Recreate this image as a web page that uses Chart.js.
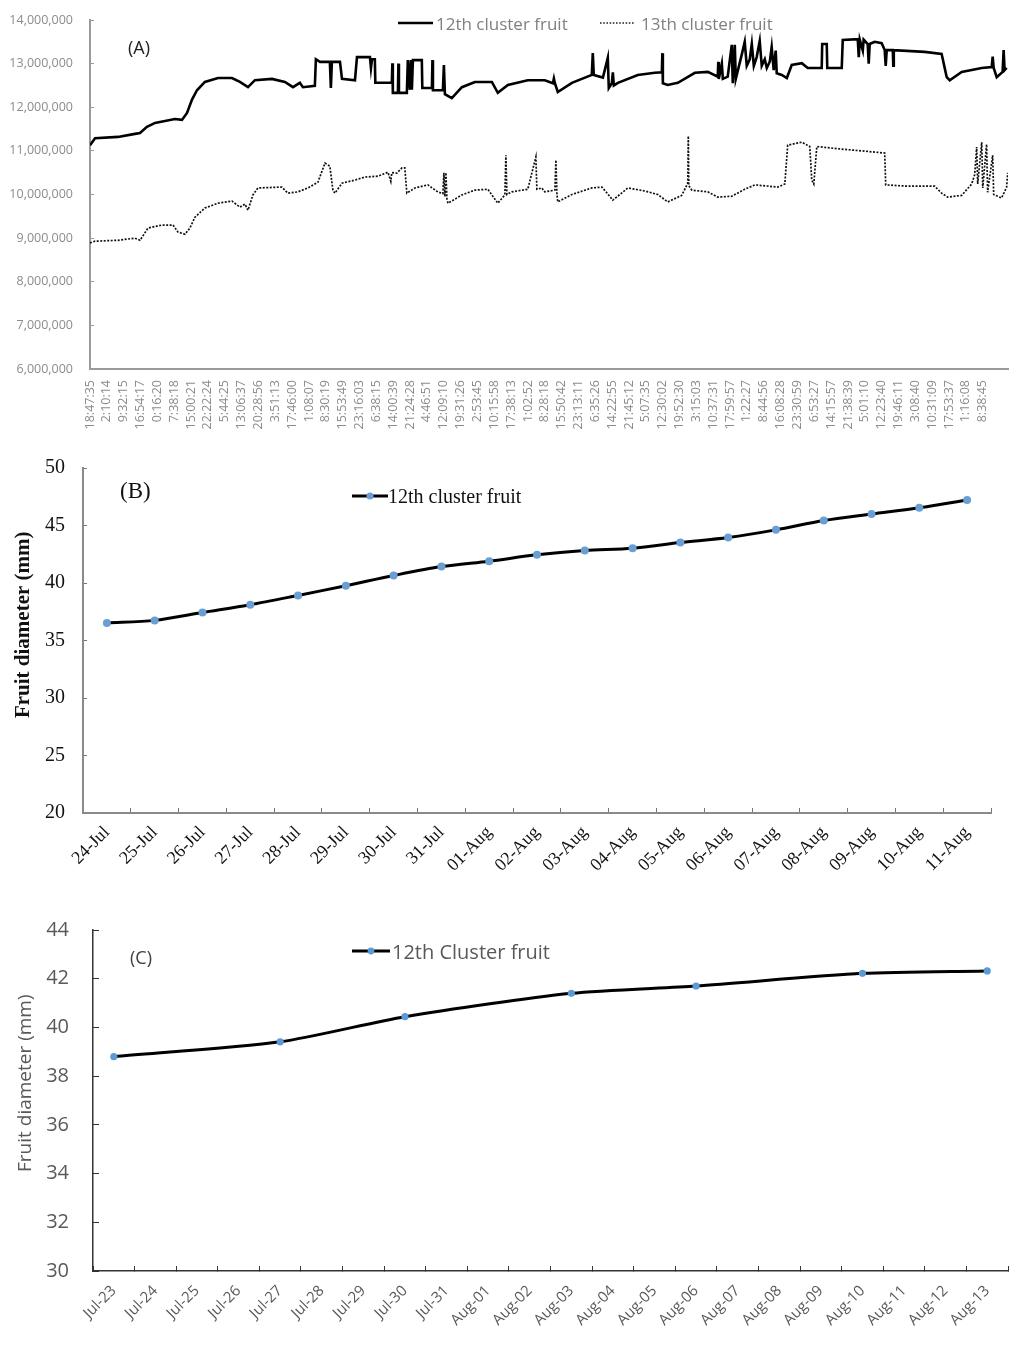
<!DOCTYPE html>
<html>
<head>
<meta charset="utf-8">
<script src="https://cdn.jsdelivr.net/npm/chart.js@4.4.1/dist/chart.umd.min.js"></script>
<style>
  body { margin: 0; background: #fff; }
  #page { position: relative; width: 1034px; height: 1358px; overflow: hidden; background: #fff; }
  canvas { position: absolute; left: 0; }
  .tag { position: absolute; white-space: nowrap; line-height: 24px; }
  .leg { position: absolute; display: flex; align-items: center; white-space: nowrap; height: 24px; }
  .leg svg { display: block; }
</style>
</head>
<body>
<div id="page">
  <canvas id="chartA" width="1034" height="445" style="top:0;width:1034px;height:445px"></canvas>
  <canvas id="chartB" width="1034" height="445" style="top:450px;width:1034px;height:445px"></canvas>
  <canvas id="chartC" width="1034" height="458" style="top:900px;width:1034px;height:458px"></canvas>

  <div class="tag" style="left:128px;top:35px;font:18px 'Open Sans';color:#222">(A)</div>
  <div class="leg" style="left:398px;top:11px;font:17px 'Open Sans';color:#808080">
    <svg width="35" height="6"><line x1="0" y1="3" x2="35" y2="3" stroke="#000" stroke-width="2.4"/></svg>
    <span style="margin-left:3px">12th cluster fruit</span>
  </div>
  <div class="leg" style="left:600px;top:11px;font:17px 'Open Sans';color:#808080">
    <svg width="34" height="6"><line x1="0" y1="3" x2="34" y2="3" stroke="#222" stroke-width="1.4" stroke-dasharray="1.6 1.6"/></svg>
    <span style="margin-left:7px">13th cluster fruit</span>
  </div>

  <div class="tag" style="left:120px;top:478px;font:23px 'Times New Roman','Liberation Serif',serif;color:#111">(B)</div>
  <div class="leg" style="left:352px;top:484px;font:20px 'Times New Roman','Liberation Serif',serif;color:#111">
    <svg width="36" height="10"><line x1="0" y1="5" x2="36" y2="5" stroke="#000" stroke-width="3"/><circle cx="18" cy="5" r="3.6" fill="#6a9fd4"/></svg>
    <span style="margin-left:0">12th cluster fruit</span>
  </div>

  <div class="tag" style="left:130px;top:945px;font:18px 'Open Sans';color:#404040">(C)</div>
  <div class="leg" style="left:352px;top:939px;font:20px 'Open Sans';color:#595959">
    <svg width="38" height="10"><line x1="0" y1="5" x2="38" y2="5" stroke="#000" stroke-width="3"/><circle cx="19" cy="5" r="3.4" fill="#5b9bd5"/></svg>
    <span style="margin-left:2px">12th Cluster fruit</span>
  </div>
</div>

<script>
// ---- panel A: sensor readings, x in units of the time-label spacing ----
const timeLabelsA = ['18:47:35','2:10:14','9:32:15','16:54:17','0:16:20','7:38:18','15:00:21','22:22:24','5:44:25','13:06:37',
  '20:28:56','3:51:13','17:46:00','1:08:07','8:30:19','15:53:49','23:16:03','6:38:15','14:00:39','21:24:28',
  '4:46:51','12:09:10','19:31:26','2:53:45','10:15:58','17:38:13','1:02:52','8:28:18','15:50:42','23:13:11',
  '6:35:26','14:22:55','21:45:12','5:07:35','12:30:02','19:52:30','3:15:03','10:37:31','17:59:57','1:22:27',
  '8:44:56','16:08:28','23:30:59','6:53:27','14:15:57','21:38:39','5:01:10','12:23:40','19:46:11','3:08:40',
  '10:31:09','17:53:37','1:16:08','8:38:45'];

const timeA12 = [0, 0.30, 1.66, 2.67, 2.97, 3.38, 3.86, 5.04, 5.46, 5.76,
  6.05, 6.35, 6.82, 7.60, 8.43, 8.90, 9.38, 9.79, 10.80, 11.57,
  12.05, 12.46, 12.64, 13.35, 13.41, 13.65, 14.24, 14.30, 14.36, 14.84,
  14.96, 15.73, 15.85, 16.62, 16.68, 16.74, 16.91, 16.94, 17.92, 17.95,
  17.98, 18.28, 18.31, 18.34, 18.81, 18.87, 18.99, 19.05, 19.11, 19.17,
  19.70, 19.73, 20.30, 20.33, 20.36, 20.95, 21.01, 21.07, 21.48, 22.08,
  22.85, 23.86, 24.21, 24.81, 25.99, 27.00, 27.48, 27.54, 27.60, 27.77,
  28.61, 29.79, 29.85, 29.91, 30.45, 30.74, 30.80, 30.98, 31.04, 31.10,
  31.34, 32.52, 33.53, 33.95, 33.98, 34.01, 34.30, 34.90, 35.91, 36.68,
  37.27, 37.30, 37.33, 37.51, 37.57, 37.86, 38.10, 38.16, 38.28, 38.34,
  38.69, 38.87, 38.99, 39.17, 39.29, 39.41, 39.58, 39.76, 39.88, 40.06,
  40.18, 40.36, 40.47, 40.59, 40.71, 40.77, 41.07, 41.37, 41.66, 42.26,
  42.61, 43.44, 43.47, 43.74, 43.77, 44.63, 44.69, 45.58, 45.64, 45.70,
  45.88, 45.93, 46.17, 46.23, 46.29, 46.59, 47.00, 47.18, 47.24, 47.30,
  47.66, 47.69, 47.72, 49.55, 50.56, 50.86, 51.04, 51.75, 52.94, 53.53,
  53.59, 53.65, 53.83, 54.18, 54.24, 54.30, 54.42];
// millions
const valueA12 = [11.13, 11.29, 11.32, 11.39, 11.41, 11.55, 11.64, 11.73, 11.71, 11.87,
  12.17, 12.39, 12.58, 12.67, 12.67, 12.58, 12.46, 12.62, 12.65, 12.58,
  12.46, 12.56, 12.46, 12.49, 13.10, 13.04, 13.04, 12.44, 13.04, 13.04,
  12.65, 12.62, 13.15, 13.15, 12.90, 13.10, 13.10, 12.56, 12.56, 13.01,
  12.33, 12.33, 13.00, 12.33, 12.33, 13.08, 12.40, 13.08, 12.40, 13.08,
  13.08, 12.44, 12.44, 13.08, 12.39, 12.39, 12.97, 12.30, 12.21, 12.46,
  12.58, 12.58, 12.33, 12.51, 12.62, 12.62, 12.55, 12.66, 12.55, 12.35,
  12.56, 12.74, 13.24, 12.74, 12.68, 13.13, 12.44, 12.55, 12.80, 12.50,
  12.56, 12.74, 12.79, 12.80, 13.24, 12.55, 12.51, 12.56, 12.79, 12.81,
  12.70, 13.04, 12.65, 13.00, 12.65, 12.70, 13.43, 12.55, 13.43, 12.65,
  13.20, 13.50, 12.95, 13.10, 13.45, 12.95, 13.15, 13.52, 12.95, 13.10,
  12.90, 13.05, 13.38, 12.85, 13.30, 12.78, 12.74, 12.67, 12.97, 13.01,
  12.90, 12.90, 13.45, 13.45, 12.90, 12.90, 13.54, 13.56, 13.15, 13.55,
  13.30, 13.55, 13.45, 13.00, 13.45, 13.50, 13.47, 13.31, 12.95, 13.31,
  13.31, 12.95, 13.31, 13.27, 13.22, 12.69, 12.62, 12.81, 12.90, 12.92,
  13.16, 12.90, 12.69, 12.81, 13.31, 12.85, 12.90];

const timeA13 = [0, 0.30, 1.66, 2.67, 2.97, 3.44, 4.27, 4.93, 5.22, 5.64,
  5.93, 6.23, 6.82, 7.60, 8.43, 8.90, 9.20, 9.38, 9.67, 9.97,
  11.39, 11.75, 12.34, 12.94, 13.53, 13.95, 14.24, 14.42, 14.54, 14.96,
  15.73, 16.32, 17.09, 17.69, 17.86, 17.92, 18.22, 18.52, 18.69, 18.81,
  19.29, 20.06, 20.65, 20.95, 21.01, 21.07, 21.13, 21.19, 21.25, 22.08,
  22.85, 23.62, 24.21, 24.63, 24.69, 24.75, 25.04, 25.99, 26.47, 26.53,
  26.82, 27.00, 27.60, 27.66, 27.72, 27.77, 28.61, 29.79, 30.39, 30.68,
  31.04, 31.93, 32.94, 33.71, 34.30, 35.13, 35.49, 35.52, 35.55, 35.73,
  36.68, 37.27, 38.10, 38.87, 39.47, 40.83, 41.25, 41.42, 42.26, 42.73,
  42.85, 42.97, 43.15, 44.63, 45.82, 47.18, 47.24, 48.55, 50.15, 50.56,
  50.92, 51.75, 52.34, 52.52, 52.64, 52.70, 52.94, 53.00, 53.23, 53.29,
  53.59, 53.65, 54.12, 54.42, 54.48];
const valueA13 = [8.89, 8.93, 8.95, 9.00, 8.95, 9.23, 9.30, 9.30, 9.14, 9.09,
  9.23, 9.48, 9.69, 9.80, 9.85, 9.71, 9.78, 9.64, 9.99, 10.15,
  10.17, 10.03, 10.06, 10.15, 10.28, 10.72, 10.65, 10.10, 10.03, 10.26,
  10.33, 10.40, 10.42, 10.51, 10.30, 10.50, 10.49, 10.61, 10.61, 10.03,
  10.15, 10.22, 10.06, 10.02, 10.50, 9.95, 10.50, 9.90, 9.80, 9.99,
  10.10, 10.12, 9.80, 9.99, 10.90, 10.00, 10.06, 10.12, 10.86, 10.12,
  10.15, 10.06, 10.10, 10.79, 10.00, 9.83, 10.00, 10.15, 10.17, 10.04,
  9.87, 10.15, 10.08, 10.00, 9.83, 9.98, 10.26, 11.34, 10.20, 10.10,
  10.06, 9.94, 9.96, 10.12, 10.22, 10.17, 10.24, 11.13, 11.20, 11.10,
  10.33, 10.24, 11.10, 11.04, 11.00, 10.95, 10.22, 10.19, 10.19, 10.03,
  9.94, 9.98, 10.24, 10.45, 11.09, 10.24, 11.20, 10.15, 11.15, 10.05,
  10.90, 10.00, 9.92, 10.17, 10.50];

// ---- panel B ----
const datesB = ['24-Jul','25-Jul','26-Jul','27-Jul','28-Jul','29-Jul','30-Jul','31-Jul','01-Aug','02-Aug',
  '03-Aug','04-Aug','05-Aug','06-Aug','07-Aug','08-Aug','09-Aug','10-Aug','11-Aug'];
const diameterB = [36.52, 36.75, 37.44, 38.11, 38.92, 39.76, 40.65, 41.43, 41.90, 42.45,
  42.82, 43.03, 43.52, 43.96, 44.62, 45.43, 46.00, 46.55, 47.22];

// ---- panel C ----
const datesC = ['Jul-23','Jul-24','Jul-25','Jul-26','Jul-27','Jul-28','Jul-29','Jul-30','Jul-31','Aug-01','Aug-02',
  'Aug-03','Aug-04','Aug-05','Aug-06','Aug-07','Aug-08','Aug-09','Aug-10','Aug-11','Aug-12','Aug-13'];
const diameterC = [38.80, null, null, null, 39.41, null, null, 40.44, null, null, null,
  41.40, null, null, 41.70, null, null, null, 42.22, null, null, 42.32];

const serif = "'Times New Roman', 'Liberation Serif', serif";
const sans = "'Open Sans', sans-serif";
const yTitle = 'Fruit diameter (mm)';

function pairs(xs, ys) {
  return xs.map((x, i) => ({ x: x, y: ys[i] }));
}
function commas(v) {
  return String(Math.round(v * 1000000)).replace(/\B(?=(\d{3})+(?!\d))/g, ',');
}
// fixed y-axis width; stop the tick padding from pushing the plot top down
function yFit(width) {
  return s => { s.width = width; s.paddingTop = 6; s.paddingBottom = 6; };
}

new Chart(document.getElementById('chartA'), {
  type: 'line',
  data: {
    datasets: [
      { label: '12th cluster fruit', data: pairs(timeA12, valueA12), borderColor: '#000', borderWidth: 2.6,
        pointRadius: 0, tension: 0 },
      { label: '13th cluster fruit', data: pairs(timeA13, valueA13), borderColor: '#111', borderWidth: 1.7,
        borderDash: [2, 1.5], pointRadius: 0, tension: 0 }
    ]
  },
  options: {
    responsive: false,
    animation: false,
    layout: { padding: { top: 20, right: 26, bottom: 6, left: 0 } },
    plugins: { legend: { display: false }, tooltip: { enabled: false } },
    scales: {
      x: {
        type: 'linear', min: 0, max: 54.5,
        afterBuildTicks: s => { s.ticks = timeLabelsA.map((l, i) => ({ value: i })); },
        afterFit: s => { s.height = 70; },
        grid: { drawOnChartArea: false, drawTicks: false },
        border: { color: '#9a9a9a', width: 2 },
        ticks: { autoSkip: false, minRotation: 90, maxRotation: 90, padding: 11, color: '#8c8c8c',
          font: { family: sans, size: 12.5 }, callback: v => timeLabelsA[v] }
      },
      y: {
        min: 6, max: 14,
        afterFit: yFit(90),
        grid: { drawOnChartArea: false, tickLength: -4, color: '#9a9a9a' },
        border: { color: '#9a9a9a', width: 2 },
        ticks: { stepSize: 1, padding: 21, color: '#8c8c8c', font: { family: sans, size: 12.5 }, callback: commas }
      }
    }
  }
});

new Chart(document.getElementById('chartB'), {
  type: 'line',
  data: {
    labels: datesB,
    datasets: [{ label: '12th cluster fruit', data: diameterB, borderColor: '#000', borderWidth: 3, tension: 0.3,
      pointRadius: 4, pointBackgroundColor: '#6a9fd4', pointBorderColor: '#6a9fd4', pointBorderWidth: 0 }]
  },
  options: {
    responsive: false,
    animation: false,
    layout: { padding: { top: 18, right: 43, bottom: 0, left: 0 } },
    plugins: { legend: { display: false }, tooltip: { enabled: false } },
    scales: {
      x: {
        offset: true,
        afterFit: s => { s.height = 82; },
        grid: { offset: true, drawOnChartArea: false, tickLength: -5, color: '#777' },
        border: { color: '#8a8a8a', width: 2 },
        ticks: { autoSkip: false, minRotation: 45, maxRotation: 45, padding: 14, color: '#111',
          font: { family: serif, size: 18 } }
      },
      y: {
        min: 20, max: 50,
        afterFit: yFit(83),
        grid: { drawOnChartArea: false, tickLength: -4, color: '#777' },
        border: { color: '#8a8a8a', width: 2 },
        // leading spaces lift the title a little, as in the original figure
        title: { display: true, text: ' '.repeat(6) + yTitle, color: '#111', padding: { top: 11, bottom: 0 },
          font: { family: serif, size: 21, weight: 'bold' } },
        ticks: { stepSize: 5, padding: 22, color: '#111', font: { family: serif, size: 20 } }
      }
    }
  }
});

new Chart(document.getElementById('chartC'), {
  type: 'line',
  data: {
    labels: datesC,
    datasets: [{ label: '12th Cluster fruit', data: diameterC, spanGaps: true, borderColor: '#000', borderWidth: 3,
      tension: 0.25, pointRadius: 3.6, pointBackgroundColor: '#5b9bd5', pointBorderColor: '#5b9bd5', pointBorderWidth: 0 }]
  },
  options: {
    responsive: false,
    animation: false,
    layout: { padding: { top: 30, right: 26, bottom: 0, left: 0 } },
    plugins: { legend: { display: false }, tooltip: { enabled: false } },
    scales: {
      x: {
        offset: true,
        afterFit: s => { s.height = 87; },
        grid: { offset: true, drawOnChartArea: false, tickLength: -5, color: '#333' },
        border: { color: '#333', width: 1.5 },
        ticks: { autoSkip: false, minRotation: 45, maxRotation: 45, padding: 16, color: '#595959',
          font: { family: sans, size: 15 } }
      },
      y: {
        min: 30, max: 44,
        afterFit: yFit(93),
        grid: { drawOnChartArea: false, tickLength: -6, color: '#333' },
        border: { color: '#333', width: 1.5 },
        title: { display: true, text: ' '.repeat(7) + yTitle, color: '#595959', padding: { top: 14, bottom: 0 },
          font: { family: sans, size: 19 } },
        ticks: { stepSize: 2, padding: 30, color: '#595959', font: { family: sans, size: 20 } }
      }
    }
  }
});
</script>
</body>
</html>
